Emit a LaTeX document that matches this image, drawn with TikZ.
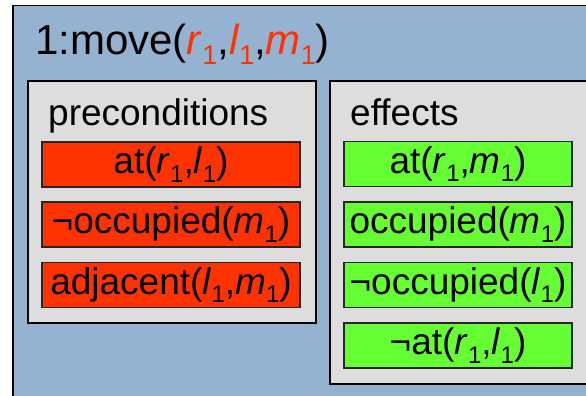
\documentclass[tikz,border=0pt]{standalone}
\usepackage{fontspec}
\setmainfont{Liberation Sans}
\usetikzlibrary{positioning}
\definecolor{opblue}{RGB}{149,179,209}
\definecolor{grpgray}{RGB}{221,221,221}
\definecolor{prered}{RGB}{255,51,0}
\definecolor{effgreen}{RGB}{102,255,51}
% italic variable with an upright, lowered index
\newcommand{\subsz}{24}
\newcommand{\pvar}[2]{\textit{#1}\raisebox{-0.23em}{\fontsize{\subsz}{\subsz}\selectfont #2}}
\tikzset{
  opbox/.style={
    draw=black, line width=1.5pt, fill=opblue,
    anchor=north west, inner sep=0pt,
  },
  grpbox/.style={
    draw=black, line width=1.5pt, fill=grpgray,
    anchor=north west, inner sep=0pt,
  },
  litbox/.style={
    draw=black!85, line width=1.2pt, fill=#1,
    minimum height=45pt, inner sep=0pt,
    font=\fontsize{37}{40}\selectfont,
  },
  prelit/.style={litbox=prered, minimum width=258pt},
  efflit/.style={litbox=effgreen, minimum width=228pt},
  grplabel/.style={anchor=base west, inner sep=0pt, font=\fontsize{37}{40}\selectfont},
}

\begin{document}
\begin{tikzpicture}[x=1pt, y=-1pt]
\useasboundingbox (0,0) rectangle (586,396);
\begin{scope}
\clip (0,0) rectangle (586,396);

% =====================================================================
%  OPERATOR
% =====================================================================
\node[opbox, minimum width=600pt, minimum height=420pt] (op) at (12,5) {};
\node[anchor=base west, inner sep=0pt, font=\fontsize{42}{46}\selectfont] (title) at (35,55)
  {\renewcommand{\subsz}{27}%
   1:move(\textcolor{prered}{\pvar{r}{1}},\textcolor{prered}{\pvar{l}{1}},\textcolor{prered}{\pvar{m}{1}})};

% =====================================================================
%  PRECONDITIONS
% =====================================================================
\node[grpbox, minimum width=288pt, minimum height=242pt] (pre) at (27,80) {};
\node[grplabel] (pretxt) at (48,125) {preconditions};

\node[prelit] (pre1) at (171,164.5) {at(\pvar{r}{1},\pvar{l}{1})};
\node[prelit] (pre2) at (171,224.5) {¬occupied(\pvar{m}{1})};
\node[prelit] (pre3) at (171,285)   {adjacent(\pvar{l}{1},\pvar{m}{1})};

% =====================================================================
%  EFFECTS
% =====================================================================
\node[grpbox, minimum width=271pt, minimum height=303pt] (eff) at (329,80) {};
\node[grplabel] (efftxt) at (350,125) {effects};

\node[efflit] (eff1) at (458,164)   {at(\pvar{r}{1},\pvar{m}{1})};
\node[efflit] (eff2) at (458,224.5) {occupied(\pvar{m}{1})};
\node[efflit] (eff3) at (458,285)   {¬occupied(\pvar{l}{1})};
\node[efflit] (eff4) at (458,345.5) {¬at(\pvar{r}{1},\pvar{l}{1})};

\end{scope}
\end{tikzpicture}
\end{document}
